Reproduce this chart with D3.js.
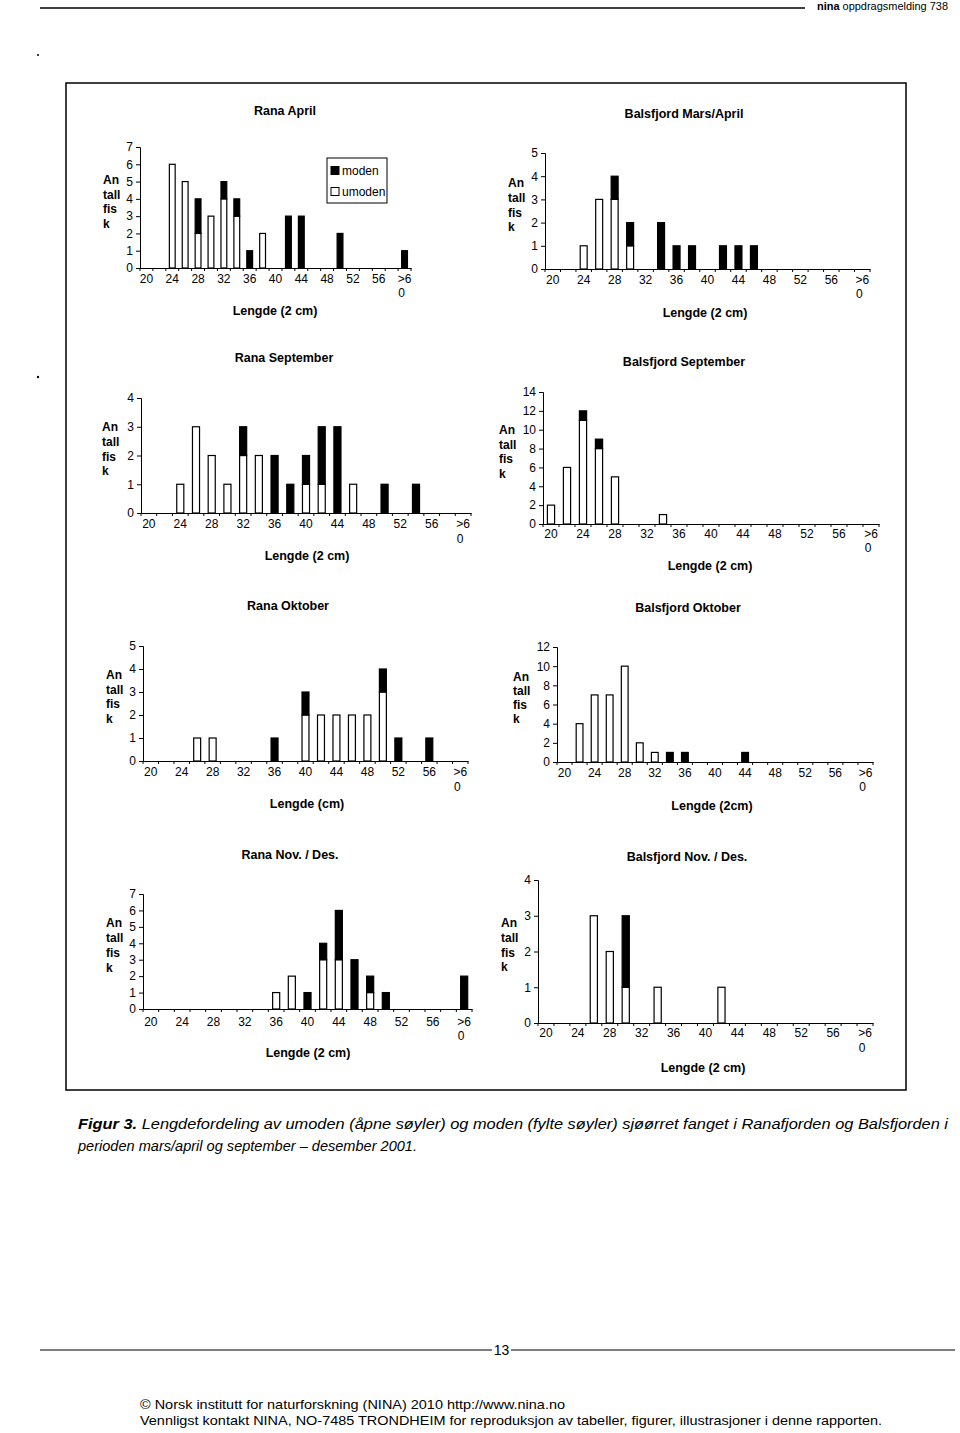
<!DOCTYPE html>
<html><head><meta charset="utf-8">
<script src="https://cdn.jsdelivr.net/npm/d3@7"></script>
<style>
body{margin:0;background:#fff}
svg text{font-family:"Liberation Sans",Arial,Helvetica,sans-serif;fill:#000}
</style>
</head><body>
<svg id="page" width="960" height="1433"></svg>
<script>
// ---------- DATA ----------
const categories = ["20","22","24","26","28","30","32","34","36","38","40","42","44","46","48","50","52","54","56","58",">60"];
const tickLabels = ["20","24","28","32","36","40","44","48","52","56",">60"];
const legendLabels = ["moden","umoden"];

const ranaAprilUmoden = [0,0,6,5,2,3,4,3,0,2,0,0,0,0,0,0,0,0,0,0,0];
const ranaAprilModen  = [0,0,0,0,2,0,1,1,1,0,0,3,3,0,0,2,0,0,0,0,1];

const balsAprilUmoden = [0,0,1,3,3,1,0,0,0,0,0,0,0,0,0,0,0,0,0,0,0];
const balsAprilModen  = [0,0,0,0,1,1,0,2,1,1,0,1,1,1,0,0,0,0,0,0,0];

const ranaSepUmoden = [0,0,1,3,2,1,2,2,0,0,1,1,0,1,0,0,0,0,0,0,0];
const ranaSepModen  = [0,0,0,0,0,0,1,0,2,1,1,2,3,0,0,1,0,1,0,0,0];

const balsSepUmoden = [2,6,11,8,5,0,0,1,0,0,0,0,0,0,0,0,0,0,0,0,0];
const balsSepModen  = [0,0,1,1,0,0,0,0,0,0,0,0,0,0,0,0,0,0,0,0,0];

const ranaOktUmoden = [0,0,0,1,1,0,0,0,0,0,2,2,2,2,2,3,0,0,0,0,0];
const ranaOktModen  = [0,0,0,0,0,0,0,0,1,0,1,0,0,0,0,1,1,0,1,0,0];

const balsOktUmoden = [0,4,7,7,10,2,1,0,0,0,0,0,0,0,0,0,0,0,0,0,0];
const balsOktModen  = [0,0,0,0,0,0,0,1,1,0,0,0,1,0,0,0,0,0,0,0,0];

const ranaNovUmoden = [0,0,0,0,0,0,0,0,1,2,0,3,3,0,1,0,0,0,0,0,0];
const ranaNovModen  = [0,0,0,0,0,0,0,0,0,0,1,1,3,3,1,1,0,0,0,0,2];

const balsNovUmoden = [0,0,0,3,2,1,0,1,0,0,0,1,0,0,0,0,0,0,0,0,0];
const balsNovModen  = [0,0,0,0,0,2,0,0,0,0,0,0,0,0,0,0,0,0,0,0,0];

const titles = ["Rana April","Balsfjord Mars/April","Rana September","Balsfjord September",
                "Rana Oktober","Balsfjord Oktober","Rana Nov. / Des.","Balsfjord Nov. / Des."];
const xTitles = ["Lengde (2 cm)","Lengde (2 cm)","Lengde (2 cm)","Lengde (2 cm)",
                 "Lengde (cm)","Lengde (2cm)","Lengde (2 cm)","Lengde (2 cm)"];
const yMaxes = [7,5,4,14,5,12,7,4];
const ySteps = [1,1,1,2,1,2,1,1];
const yLabelLines = ["An","tall","fis","k"];

// ---------- LAYOUT ----------
const layout = [
  {x0:140,x1:411,yTop:147,y0:268,tx:285,ty:110,lx:279,lz:293,xtx:275,xty:310,ylx:103,yly:180,yls:14.5},
  {x0:545,x1:870,yTop:153,y0:269,tx:684,ty:113,lx:280,lz:294,xtx:705,xty:312,ylx:508,yly:183,yls:14.7},
  {x0:141,x1:471,yTop:398,y0:513,tx:284,ty:357,lx:524,lz:539,xtx:307,xty:555,ylx:102,yly:427,yls:14.7},
  {x0:543,x1:879,yTop:392,y0:524,tx:684,ty:361,lx:534,lz:548,xtx:710,xty:565,ylx:499,yly:430,yls:14.5},
  {x0:143,x1:468,yTop:646,y0:761,tx:288,ty:605,lx:772,lz:787,xtx:307,xty:803,ylx:106,yly:675,yls:14.5},
  {x0:557,x1:873,yTop:647,y0:762,tx:688,ty:607,lx:773,lz:787,xtx:712,xty:805,ylx:513,yly:677,yls:13.8},
  {x0:143,x1:472,yTop:894,y0:1009,tx:290,ty:854,lx:1022,lz:1036,xtx:308,xty:1052,ylx:106,yly:923,yls:15},
  {x0:538,x1:873,yTop:880,y0:1023,tx:687,ty:856,lx:1033,lz:1048,xtx:703,xty:1067,ylx:501,yly:923,yls:14.7}
];
const umodenSets = [ranaAprilUmoden,balsAprilUmoden,ranaSepUmoden,balsSepUmoden,ranaOktUmoden,balsOktUmoden,ranaNovUmoden,balsNovUmoden];
const modenSets  = [ranaAprilModen,balsAprilModen,ranaSepModen,balsSepModen,ranaOktModen,balsOktModen,ranaNovModen,balsNovModen];

const svg = d3.select("#page");

// page header
svg.append("line").attr("x1",40).attr("x2",805).attr("y1",8).attr("y2",8).attr("stroke","#000").attr("stroke-width",1.3);
const hdr = svg.append("text").attr("x",817).attr("y",10).attr("font-size",11)
  .attr("textLength",131).attr("lengthAdjust","spacingAndGlyphs");
hdr.append("tspan").attr("font-weight","bold").text("nina");
hdr.append("tspan").text(" oppdragsmelding 738");
svg.append("circle").attr("cx",38).attr("cy",55).attr("r",1).attr("fill","#000");
svg.append("circle").attr("cx",38).attr("cy",377).attr("r",1.2).attr("fill","#000");

// outer frame
svg.append("rect").attr("x",66).attr("y",83).attr("width",840).attr("height",1007)
  .attr("fill","none").attr("stroke","#000").attr("stroke-width",1.5);

// panels
layout.forEach((L,i)=>{
  const g = svg.append("g");
  const x = d3.scaleBand().domain(categories).range([L.x0,L.x1]).paddingInner(0.55).paddingOuter(0.275);
  const y = d3.scaleLinear().domain([0,yMaxes[i]]).range([L.y0,L.yTop]);
  const um = umodenSets[i], mo = modenSets[i];

  // title
  g.append("text").attr("x",L.tx).attr("y",L.ty+4.5).attr("text-anchor","middle")
    .attr("font-size",12.5).attr("font-weight","bold").text(titles[i]);

  // y axis
  const yAx = d3.axisLeft(y).tickValues(d3.range(0,yMaxes[i]+0.001,ySteps[i])).tickSize(4).tickPadding(3).tickFormat(d3.format("d"));
  const ya = g.append("g").attr("transform",`translate(${L.x0},0)`).call(yAx);
  ya.select(".domain").attr("stroke","#000").attr("stroke-width",1);
  ya.selectAll(".tick line").attr("stroke","#000");
  ya.selectAll(".tick text").attr("font-size",12).attr("font-family","Liberation Sans, Arial, sans-serif").attr("fill","#000");

  // bars
  const bw = x.bandwidth();
  categories.forEach((c,k)=>{
    if(um[k]>0){
      g.append("rect").attr("x",x(c)).attr("width",bw)
        .attr("y",y(um[k])).attr("height",y(0)-y(um[k]))
        .attr("fill","#fff").attr("stroke","#000").attr("stroke-width",1.2);
    }
    if(mo[k]>0){
      g.append("rect").attr("x",x(c)).attr("width",bw)
        .attr("y",y(um[k]+mo[k])).attr("height",y(um[k])-y(um[k]+mo[k]))
        .attr("fill","#000").attr("stroke","#000").attr("stroke-width",1.2);
    }
  });

  // x axis
  const xAx = d3.axisBottom(x).tickValues(tickLabels).tickSize(0).tickPadding(0);
  const xa = g.append("g").attr("transform",`translate(0,${L.y0})`).call(xAx);
  xa.select(".domain").attr("stroke","#000").attr("stroke-width",1);
  xa.selectAll(".tick text").remove();
  // boundary tick marks
  const step = x.step();
  d3.range(categories.length+1).forEach(k=>{
    g.append("line").attr("x1",L.x0+k*step).attr("x2",L.x0+k*step)
      .attr("y1",L.y0).attr("y2",L.y0+3).attr("stroke","#000").attr("stroke-width",1);
  });
  tickLabels.forEach(t=>{
    const cx = x(t)+bw/2;
    if(t===">60"){
      g.append("text").attr("x",cx).attr("y",L.lx+4.3).attr("text-anchor","middle").attr("font-size",12).text(">6");
      g.append("text").attr("x",cx-3).attr("y",L.lz+4.3).attr("text-anchor","middle").attr("font-size",12).text("0");
    } else {
      g.append("text").attr("x",cx).attr("y",L.lx+4.3).attr("text-anchor","middle").attr("font-size",12).text(t);
    }
  });

  // x title
  g.append("text").attr("x",L.xtx).attr("y",L.xty+4.5).attr("text-anchor","middle")
    .attr("font-size",12.5).attr("font-weight","bold").text(xTitles[i]);

  // y title
  yLabelLines.forEach((s,k)=>{
    g.append("text").attr("x",L.ylx).attr("y",L.yly+k*L.yls+4.3)
      .attr("font-size",12).attr("font-weight","bold").text(s);
  });

  // legend (first panel only)
  if(i===0){
    g.append("rect").attr("x",327).attr("y",158).attr("width",60).attr("height",45)
      .attr("fill","#fff").attr("stroke","#000").attr("stroke-width",1);
    const fills = ["#000","#fff"];
    legendLabels.forEach((lab,k)=>{
      const cy = 171 + k*21;
      g.append("rect").attr("x",331).attr("y",cy-4.5).attr("width",8).attr("height",8)
        .attr("fill",fills[k]).attr("stroke","#000").attr("stroke-width",1);
      g.append("text").attr("x",342).attr("y",cy+4.3).attr("font-size",12).text(lab);
    });
  }
});

// caption
const cap1 = svg.append("text").attr("x",78).attr("y",1129).attr("font-size",15).attr("font-style","italic")
  .attr("textLength",870).attr("lengthAdjust","spacingAndGlyphs");
cap1.append("tspan").attr("font-weight","bold").text("Figur 3.");
cap1.append("tspan").text(" Lengdefordeling av umoden (åpne søyler) og moden (fylte søyler) sjøørret fanget i Ranafjorden og Balsfjorden i");
svg.append("text").attr("x",78).attr("y",1151).attr("font-size",15).attr("font-style","italic")
  .attr("textLength",339).attr("lengthAdjust","spacingAndGlyphs")
  .text("perioden mars/april og september – desember 2001.");

// footer
svg.append("line").attr("x1",40).attr("x2",492).attr("y1",1350).attr("y2",1350).attr("stroke","#000").attr("stroke-width",1.2);
svg.append("line").attr("x1",511).attr("x2",955).attr("y1",1350).attr("y2",1350).attr("stroke","#000").attr("stroke-width",1.2);
svg.append("text").attr("x",501.5).attr("y",1355).attr("text-anchor","middle").attr("font-size",14).text("13");
svg.append("text").attr("x",140).attr("y",1409).attr("font-size",13)
  .attr("textLength",425).attr("lengthAdjust","spacingAndGlyphs")
  .text("© Norsk institutt for naturforskning (NINA) 2010 http://www.nina.no");
svg.append("text").attr("x",140).attr("y",1425).attr("font-size",13)
  .attr("textLength",742).attr("lengthAdjust","spacingAndGlyphs")
  .text("Vennligst kontakt NINA, NO-7485 TRONDHEIM for reproduksjon av tabeller, figurer, illustrasjoner i denne rapporten.");
</script>
</body></html>
